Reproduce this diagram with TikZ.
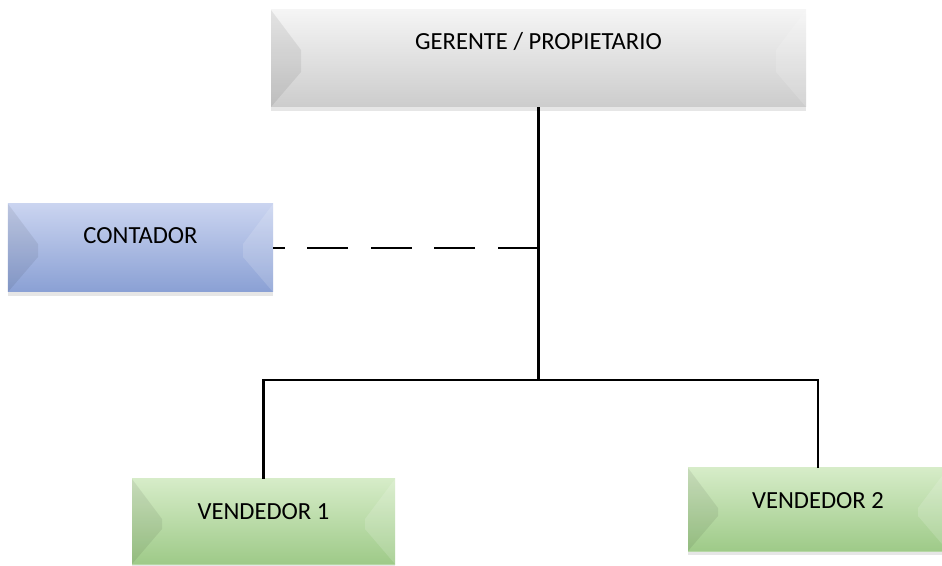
\documentclass[tikz,border=0pt]{standalone}
\usepackage{fontspec}
\setmainfont{Carlito}
\usepackage{tikz}
\usetikzlibrary{calc,shadows}

\begin{document}
\begin{tikzpicture}[
    box/.style={rectangle,inner sep=0pt,align=center,text height=0.8cm,
        font=\fontsize{14}{16}\selectfont,text=black,
        drop shadow={shadow xshift=0pt,shadow yshift=-2pt,opacity=.2},
        path picture={
          \fill[black,opacity=.07] (path picture bounding box.north west)
            -- ([shift={(0.6,-0.8)}]path picture bounding box.north west)
            -- ([shift={(0.6,0.7)}]path picture bounding box.south west)
            -- (path picture bounding box.south west) -- cycle;
          \fill[white,opacity=.15] (path picture bounding box.north east)
            -- ([shift={(-0.6,-0.8)}]path picture bounding box.north east)
            -- ([shift={(-0.6,0.7)}]path picture bounding box.south east)
            -- (path picture bounding box.south east) -- cycle;
          \fill[white,opacity=.25] ([yshift=-0.08cm]path picture bounding box.south west)
            rectangle (path picture bounding box.south east);}},
    graybox/.style={box,top color=gray!8,bottom color=gray!40},
    bluebox/.style={box,top color={rgb,255:red,202;green,212;blue,240},bottom color={rgb,255:red,138;green,160;blue,212}},
    greenbox/.style={box,top color={rgb,255:red,214;green,236;blue,200},bottom color={rgb,255:red,158;green,202;blue,136}},
    link/.style={line width=1.4pt},
    dashlink/.style={line width=1.4pt,dash pattern=on 0.82cm off 0.45cm}]
\useasboundingbox (0,0) rectangle (18.84,-11.32);
\node[graybox,minimum width=10.7cm,text depth=1.14cm] (gerente) at (10.77,-1.17) {GERENTE / PROPIETARIO};
\node[bluebox,minimum width=5.3cm,text depth=0.96cm] (contador) at (2.81,-4.96) {CONTADOR};
\node[greenbox,minimum width=5.26cm,text depth=0.9cm] (vend1) at (5.27,-10.43) {VENDEDOR 1};
\node[greenbox,minimum width=5.2cm,text depth=0.86cm] (vend2) at (16.36,-10.19) {VENDEDOR 2};
\coordinate (split) at (gerente.south |- 0,-7.6);
\coordinate (join) at (gerente.south |- contador.east);
\draw[link] (gerente.south) -- (split);
\draw[link] (vend1.north) |- (split) -| (vend2.north);
\draw[dashlink] (join) -- (contador.east);
\end{tikzpicture}
\end{document}
